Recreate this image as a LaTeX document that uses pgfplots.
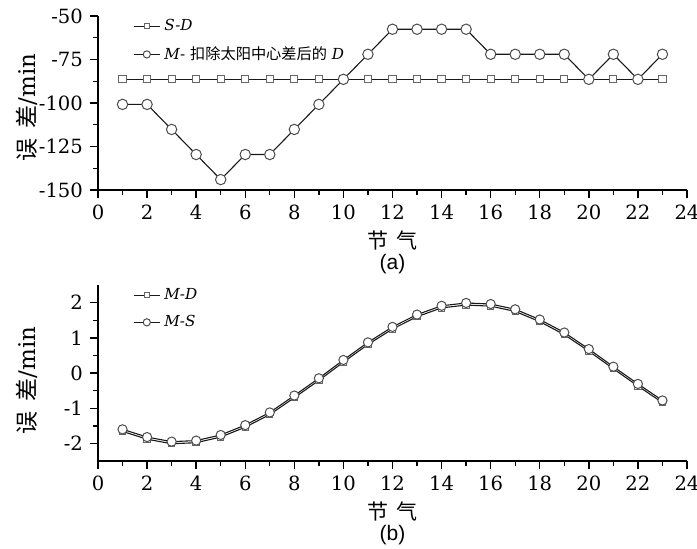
\documentclass[border=0pt]{standalone}
\usepackage{pgfplots}
\pgfplotsset{compat=1.18}
\usepackage{fontspec}
\setmainfont{DejaVu Serif}
\newfontfamily\cjk{Noto Sans CJK SC}
\newfontfamily\sansf{Liberation Sans}
\begin{document}
\begin{tikzpicture}
\useasboundingbox (-49pt,-179pt) rectangle (299.5pt,95pt);
\pgfplotsset{
 myaxis/.style={
  scale only axis, width=294.5pt,
  axis x line*=bottom, axis y line*=left,
  axis line style={line width=0.9pt, -},
  tick align=outside,
  major tick length=4pt, minor tick length=2.5pt,
  every tick/.style={line width=0.7pt, black},
  xmin=0, xmax=24, xtick={0,2,...,24}, minor x tick num=1,
  minor y tick num=1,
  /pgf/number format/assume math mode=true,
  tick label style={font=\fontsize{9.8}{11}\selectfont},
  clip=false,
  legend cell align=left,
  legend style={draw=none, fill=none, font=\fontsize{7.6}{9}\selectfont,
    at={(axis description cs:0.049,1.03)}, anchor=north west, row sep=2.5pt},
  legend image code/.code={\draw[##1, mark repeat=2, mark phase=2] plot coordinates {(0pt,0pt) (6.5pt,0pt) (13pt,0pt)};},
  xlabel={{\cjk 节\hspace{0.4em}气}},
  xlabel style={at={(axis description cs:0.5,0)}, anchor=center, yshift=-25pt, font=\fontsize{10.5}{12}\selectfont},
  ylabel={{\cjk 误\hspace{0.45em}差}/min},
  ylabel style={font=\fontsize{11.5}{13}\selectfont, anchor=center},
 },
 sq/.style={black!90, line width=0.55pt, mark=square*, mark size=1.8pt,
   mark options={fill=white, draw=black!60, line width=0.5pt},
   legend image post style={mark size=1.3pt}},
 ci/.style={black!90, line width=0.55pt, mark=*, mark size=2.6pt,
   mark options={fill=white, draw=black!70, line width=0.5pt},
   legend image post style={mark size=1.8pt}},
}
% ---------- (a) ----------
\begin{axis}[myaxis, name=top, at={(0,0)}, anchor=south west, height=87pt,
  ymin=-150, ymax=-50, ytick={-150,-125,-100,-75,-50},
  ylabel style={at={(axis description cs:-0.1205,0.474)}}]
\addplot[sq] table {
x y
1 -86.4
2 -86.4
3 -86.4
4 -86.4
5 -86.4
6 -86.4
7 -86.4
8 -86.4
9 -86.4
10 -86.4
11 -86.4
12 -86.4
13 -86.4
14 -86.4
15 -86.4
16 -86.4
17 -86.4
18 -86.4
19 -86.4
20 -86.4
21 -86.4
22 -86.4
23 -86.4
};
\addlegendentry{\itshape S-D}
\addplot[ci] table {
x y
1 -100.8
2 -100.8
3 -115.2
4 -129.6
5 -144
6 -129.6
7 -129.6
8 -115.2
9 -100.8
10 -86.4
11 -72
12 -57.6
13 -57.6
14 -57.6
15 -57.6
16 -72
17 -72
18 -72
19 -72
20 -86.4
21 -72
22 -86.4
23 -72
};
\addlegendentry{\textit{M}- {\cjk 扣除太阳中心差后的} \textit{D}}
\node[font=\sansf\fontsize{10.5}{12}\selectfont] at (axis description cs:0.5,0) [yshift=-37pt] {(a)};
\end{axis}
% ---------- (b) ----------
\begin{axis}[myaxis, name=bot, at={(0,-135.5pt)}, anchor=south west, height=88pt,
  ymin=-2.5, ymax=2.5, ytick={-2,-1,0,1,2},
  ylabel style={at={(axis description cs:-0.1205,0.458)}}]
\addplot[sq, mark size=1.6pt] table {
x y
1 -1.66
2 -1.88
3 -2.01
4 -1.98
5 -1.82
6 -1.54
7 -1.18
8 -0.70
9 -0.21
10 0.31
11 0.81
12 1.25
13 1.60
14 1.85
15 1.93
16 1.90
17 1.75
18 1.46
19 1.09
20 0.62
21 0.12
22 -0.37
23 -0.84
};
\addlegendentry{\itshape M-D}
\addplot[ci, mark size=2.3pt] table {
x y
1 -1.60
2 -1.82
3 -1.95
4 -1.92
5 -1.76
6 -1.48
7 -1.12
8 -0.64
9 -0.15
10 0.37
11 0.87
12 1.31
13 1.66
14 1.91
15 1.99
16 1.96
17 1.81
18 1.52
19 1.15
20 0.68
21 0.18
22 -0.31
23 -0.78
};
\addlegendentry{\itshape M-S}
\node[font=\sansf\fontsize{10.5}{12}\selectfont] at (axis description cs:0.5,0) [yshift=-37pt] {(b)};
\end{axis}
\end{tikzpicture}
\end{document}
